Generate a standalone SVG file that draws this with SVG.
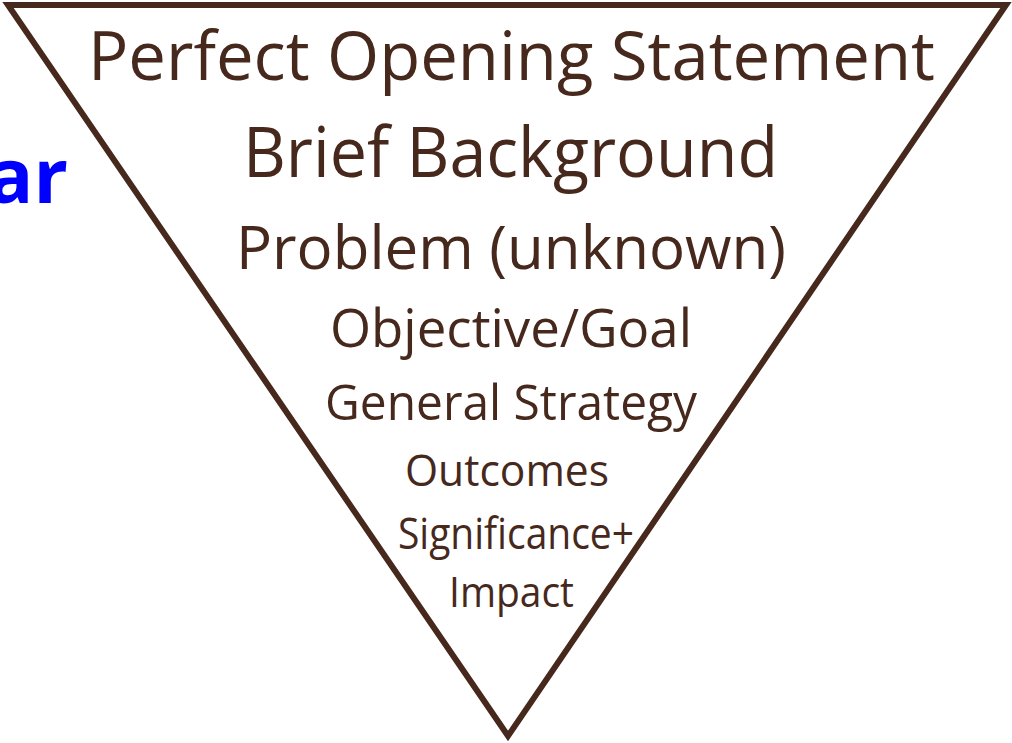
<svg xmlns="http://www.w3.org/2000/svg" width="1012" height="743" viewBox="0 0 1012 743">
  <style>
    .lbl { font-family: "Open Sans", "Noto Sans", "Liberation Sans", sans-serif; fill: #46291c; text-anchor: middle; }
    .side { font-family: "Open Sans", "Liberation Sans", sans-serif; font-weight: 700; fill: #0000ff; }
  </style>
  <rect width="1012" height="743" fill="#ffffff"/>

  <!-- side label, partly off the left edge -->
  <g id="side-label">
    <text class="side" x="68" y="203" font-size="76" text-anchor="end">ar</text>
  </g>

  <!-- inverted funnel -->
  <g id="funnel">
    <polygon points="8,5 1006,5 508,736" fill="none" stroke="#46291c" stroke-width="6" stroke-linejoin="miter"/>
  </g>

  <!-- funnel levels, widest at the top -->
  <g id="levels">
    <g id="opening"><text class="lbl" x="511.5" y="80" font-size="67" textLength="847" lengthAdjust="spacingAndGlyphs">Perfect Opening Statement</text></g>
    <g id="background"><text class="lbl" x="510.5" y="177" font-size="70" textLength="535" lengthAdjust="spacingAndGlyphs">Brief Background</text></g>
    <g id="problem"><text class="lbl" x="511" y="269" font-size="60" textLength="550" lengthAdjust="spacingAndGlyphs">Problem (unknown)</text></g>
    <g id="objective"><text class="lbl" x="511" y="347" font-size="53" textLength="362" lengthAdjust="spacingAndGlyphs">Objective/Goal</text></g>
    <g id="strategy"><text class="lbl" x="511" y="420" font-size="50" textLength="372" lengthAdjust="spacingAndGlyphs">General Strategy</text></g>
    <g id="outcomes"><text class="lbl" x="507" y="486" font-size="43" textLength="204" lengthAdjust="spacingAndGlyphs">Outcomes</text></g>
    <g id="significance">
      <text class="lbl" x="516" y="549" font-size="43" textLength="236" lengthAdjust="spacingAndGlyphs">Significance+</text>
      <text class="lbl" x="511.5" y="607" font-size="42" textLength="125" lengthAdjust="spacingAndGlyphs">Impact</text>
    </g>
  </g>
</svg>
